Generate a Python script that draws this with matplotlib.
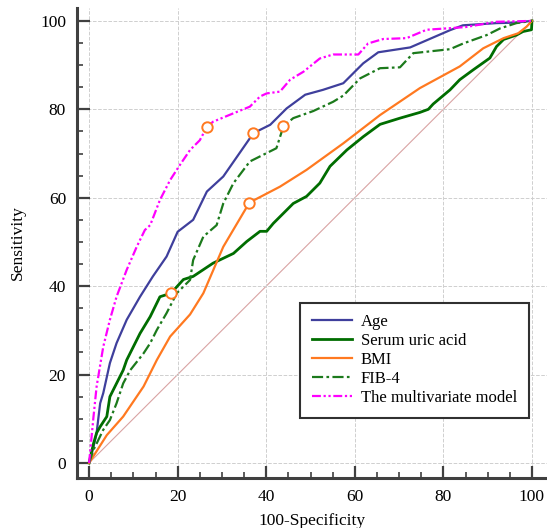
import matplotlib.pyplot as plt
import numpy as np

# ROC curves: x = 100-Specificity, y = Sensitivity
age_x = [0, 1, 1.7, 2.5, 3.2, 4.7, 6.2, 8.5, 11.5, 14.4, 17.5, 20.0, 23.5, 26.6, 30.3,
         37.1, 40.9, 44.6, 48.8, 52.8, 57.4, 61.9, 65.3, 72.5, 81.5, 84.4, 92, 96, 100]
age_y = [0, 3.7, 6.8, 13.5, 15.8, 22.6, 27.1, 32.4, 37.6, 42.2, 46.7, 52.3, 55.0, 61.4, 64.8,
         74.6, 76.5, 80.2, 83.3, 84.4, 85.9, 90.4, 92.9, 94.0, 97.9, 99.0, 99.5, 99.6, 100]

sua_x = [0, 1, 1.7, 2.5, 4, 4.7, 6.2, 7.7, 8.5, 10, 11.5, 13.8, 16, 18.5, 21.3, 23.5, 28,
         32.6, 35.6, 38.6, 40.1, 41.6, 43.1, 46.1, 49.1, 52.1, 54.4, 58.2, 61.9, 65.7, 70.2,
         74.7, 76.6, 77.7, 81.5, 83.7, 86.7, 90.5, 92, 93.6, 96.5, 98, 99.9, 100]
sua_y = [0, 4.4, 6.8, 8.2, 10.5, 15, 18, 21, 23.3, 26.3, 29.3, 33.1, 37.6, 38.4, 41.5, 42.2, 45.2,
         47.4, 50.1, 52.4, 52.4, 54.2, 55.7, 58.7, 60.3, 63.3, 67.1, 70.8, 73.8, 76.6, 78,
         79.3, 80, 81.2, 84.4, 86.7, 88.9, 91.6, 94.2, 95.8, 96.8, 97.6, 98, 100]

bmi_x = [0, 4, 7.7, 12.3, 15.3, 18.3, 22.8, 25.8, 30.3, 36.2, 43.1, 49.1, 57.4, 65.7,
         74.7, 83.7, 89, 93.6, 96.9, 98.8, 100]
bmi_y = [0, 6.3, 10.5, 17.3, 23.3, 28.6, 33.6, 38.4, 48.9, 58.9, 62.5, 66.3, 72.3, 78.7,
         84.8, 89.7, 93.8, 96.1, 97.2, 98.7, 100]

fib4_x = [0, 1, 1.7, 3.2, 4.7, 6.2, 7.7, 9.3, 12.3, 13.8, 15.3, 17.5, 19.8, 22.8, 23.5,
          25.8, 28.8, 30.3, 32.6, 36.3, 39.3, 42.3, 43.9, 46.1, 50.6, 55.1, 57.4, 61.2, 65.7,
          70.2, 73.2, 81.5, 84.5, 89.8, 92.8, 96.5, 100]
fib4_y = [0, 3, 4.4, 7.5, 9.7, 13.5, 18, 21, 24.8, 27.1, 30.1, 33.9, 38.4, 41.4, 45.9,
          51.2, 53.8, 58.7, 63.3, 68.2, 69.7, 71.2, 76.2, 78, 79.6, 81.7, 83.1, 87.0, 89.3,
          89.5, 92.7, 93.6, 94.9, 96.8, 98.3, 99.5, 100]

multi_x = [0, 1, 1.7, 3.2, 4.7, 6.2, 8.5, 10.8, 12.6, 13.8, 16, 18.3, 20.5, 22.8, 25, 26.6,
           28, 32.6, 36.3, 38.6, 40.1, 43.1, 45.4, 48.4, 52.1, 55.1, 60.8, 63, 66.4, 71.7,
           76.2, 80.7, 85, 92, 100]
multi_y = [0, 10.5, 17.3, 26.3, 32.4, 37.6, 43.7, 49, 52.7, 53.8, 59.5, 64, 67.4, 70.8, 73, 76,
           77.2, 79.1, 80.6, 82.9, 83.6, 84, 86.7, 88.5, 91.5, 92.4, 92.4, 94.9, 95.9, 96.1,
           98, 98.3, 98.6, 99.8, 100]

# optimal cut-off points
cut_x = [26.6, 37.1, 43.9, 36.2, 18.5]
cut_y = [76.0, 74.6, 76.2, 58.9, 38.4]

labels = ['Age', 'Serum uric acid', 'BMI', 'FIB-4', 'The multivariate model']

plt.rcParams['font.family'] = ['Liberation Serif', 'DejaVu Serif']

fig = plt.figure(figsize=(5.47, 5.28), dpi=100)
ax = fig.add_axes([0.141, 0.0947, 0.859, 0.890])

ax.plot([0, 100], [0, 100], color='#d9a3a3', lw=0.8, zorder=1)
ax.plot(age_x, age_y, color='#3f3f9c', lw=1.6, label=labels[0], zorder=3)
ax.plot(sua_x, sua_y, color='#006d00', lw=2.0, label=labels[1], zorder=3)
ax.plot(bmi_x, bmi_y, color='#ff7920', lw=1.6, label=labels[2], zorder=3)
ax.plot(fib4_x, fib4_y, color='#1c7a1c', lw=1.6, ls=(0, (5, 1.5, 1.2, 1.5)), label=labels[3], zorder=3)
ax.plot(multi_x, multi_y, color='#ff00ff', lw=1.6, ls=(0, (4, 1.2, 1, 1.2, 1, 1.2)), label=labels[4], zorder=3)
ax.plot(cut_x, cut_y, 'o', ms=7.5, mfc='white', mec='#ff7920', mew=1.4, zorder=4)

ax.set_xlim(-2.7, 103.4)
ax.set_ylim(-3.4, 102.9)
ax.set_xticks(np.arange(0, 101, 20))
ax.set_yticks(np.arange(0, 101, 20))
ax.set_xticks(np.arange(0, 101, 5), minor=True)
ax.set_yticks(np.arange(0, 101, 5), minor=True)
ax.tick_params(which='major', direction='in', length=9, width=1.6, color='#404040', labelsize=12.5, pad=8)
ax.tick_params(which='minor', direction='in', length=4.5, width=1.2, color='#404040')
ax.grid(True, which='major', ls='--', color='#cfcfcf', lw=0.7)

for side in ['top', 'right']:
    ax.spines[side].set_visible(False)
for side in ['left', 'bottom']:
    ax.spines[side].set_linewidth(2.2)
    ax.spines[side].set_color('#404040')

ax.set_xlabel('100-Specificity', fontsize=12.5, labelpad=6)
ax.set_ylabel('Sensitivity', fontsize=12.5, labelpad=10)

leg = ax.legend(loc='lower left', bbox_to_anchor=(0.474, 0.128), borderaxespad=0,
                fontsize=12, handlelength=2.4, labelspacing=0.18, fancybox=False,
                edgecolor='#303030', framealpha=1, borderpad=0.7, handletextpad=0.55)
leg.get_frame().set_linewidth(1.5)

fig.savefig('out.png', dpi=100)
